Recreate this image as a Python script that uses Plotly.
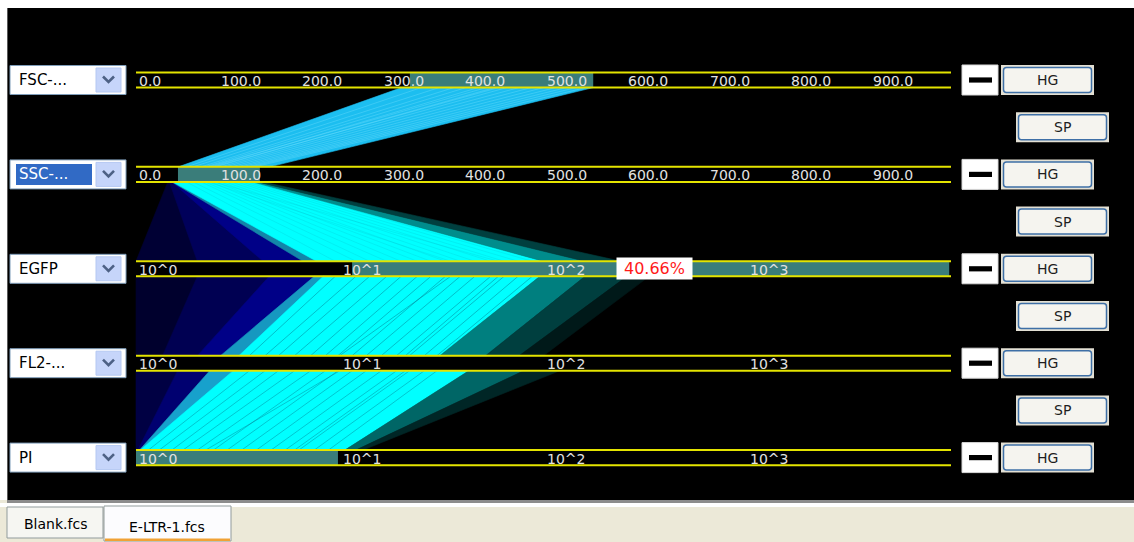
import numpy as np
import plotly.graph_objects as go

W, H = 1134, 542

# ---------------------------------------------------------------- data
AXIS_NAMES = ["FSC-...", "SSC-...", "EGFP", "FL2-...", "PI"]
AXIS_SCALES = ["lin", "lin", "log", "log", "log"]
LIN_MAX = 1000.0
LOG_DECADES = 4.0

LIN_TICKS = [0, 100, 200, 300, 400, 500, 600, 700, 800, 900]
LIN_TICK_LABELS = ["0.0", "100.0", "200.0", "300.0", "400.0",
                   "500.0", "600.0", "700.0", "800.0", "900.0"]
LOG_TICKS = [1, 10, 100, 1000]
LOG_TICK_LABELS = ["10^0", "10^1", "10^2", "10^3"]

# gates (selected ranges) per axis
GATE_AXIS = [0, 1, 2, 4]
GATE_LO = [336.0, 51.5, 11.5, 1.0]
GATE_HI = [561.0, 152.0, 9800.0, 9.8]
GATE_PERCENT_AXIS = 2
GATE_PERCENT = 40.66

# event bundles between consecutive axes (values on upper and lower axis)
BUNDLE_FROM = [0,
               1, 1, 1, 1, 1, 1, 1,
               2, 2, 2, 2, 2, 2, 2, 2,
               3, 3, 3, 3, 3, 3]
BUNDLE_UP_LO = [326.0,
                39.0, 41.0, 44.0, 44.0, 45.0, 143.0, 149.0,
                1.0, 2.0, 4.5, 7.5, 8.3, 96.0, 160.0, 257.0,
                1.0, 1.6, 2.3, 3.0, 43.0, 80.0]
BUNDLE_UP_HI = [561.0,
                44.0, 46.0, 50.0, 52.0, 144.0, 150.0, 156.0,
                2.0, 4.5, 8.3, 9.0, 96.0, 160.0, 257.0, 330.0,
                1.6, 2.3, 3.0, 43.0, 80.0, 120.0]
BUNDLE_DN_LO = [52.0,
                1.0, 2.0, 4.2, 6.6, 7.7, 100.0, 160.0,
                1.0, 1.35, 2.0, 2.6, 3.2, 31.0, 52.0, 76.0,
                1.0, 1.02, 1.04, 1.05, 10.6, 12.0]
BUNDLE_DN_HI = [164.0,
                2.0, 4.2, 7.7, 8.2, 100.0, 160.0, 240.0,
                1.35, 2.0, 2.8, 3.3, 31.0, 52.0, 76.0, 100.0,
                1.02, 1.04, 1.3, 10.6, 12.0, 13.0]
BUNDLE_GROUP = ["mixed",
                "other", "other", "other", "mixed", "gated", "gated", "gated",
                "other", "other", "other", "mixed", "gated", "gated", "gated", "gated",
                "other", "other", "mixed", "gated", "gated", "gated"]
BUNDLE_DENSITY = [1.0,
                  0.35, 0.6, 0.9, 0.7, 1.0, 0.55, 0.25,
                  0.3, 0.55, 0.9, 0.8, 1.0, 0.5, 0.25, 0.1,
                  0.45, 0.75, 0.85, 1.0, 0.4, 0.15]

# individual gated events (FSC, SSC, EGFP, FL2, PI)
EVENT_FSC = [350, 372, 390, 405, 420, 440, 455, 470, 485, 500, 515, 528, 540, 552, 445, 430]
EVENT_SSC = [62, 70, 80, 85, 92, 98, 104, 110, 117, 124, 130, 136, 141, 146, 95, 88]
EVENT_EGFP = [9.5, 12, 14, 17, 20, 24, 28, 33, 39, 46, 55, 64, 75, 88, 60, 35]
EVENT_FL2 = [3.6, 4.3, 5.0, 6.0, 7.2, 8.5, 9.8, 11.5, 13.5, 16, 19, 22, 26, 30, 21, 10]
EVENT_PI = [1.15, 1.3, 1.5, 1.7, 2.0, 2.4, 2.8, 3.3, 3.9, 4.6, 5.4, 6.3, 7.5, 8.8, 6.0, 2.2]

# ---------------------------------------------------------------- layout constants
ROW_TOP_PX = 80.0
ROW_STEP_PX = 94.4
AXIS_LEFT_PX = 136.0
AXIS_LEN_PX = 815.0
HALF = 0.08  # half height of an axis band, in row units

GROUP_RGB = {"gated": (0, 255, 255), "other": (0, 0, 150), "mixed": (28, 190, 240)}
STREAK_COLOR = ["rgba(120,225,255,0.35)", "rgba(0,170,190,0.18)",
                "rgba(0,130,150,0.5)", "rgba(0,130,150,0.45)"]
TEAL = "#3A7D7A"
YELLOW = "#E4E400"
TICK_COLOR = "#E2E2E2"
FONT = "DejaVu Sans"


def to_u(axis, v):
    if AXIS_SCALES[axis] == "lin":
        return v / LIN_MAX
    return np.log10(v) / LOG_DECADES


def shade(group, dens):
    r, g, b = GROUP_RGB[group]
    return f"rgb({int(r * dens)},{int(g * dens)},{int(b * dens)})"


def px(x):
    return x / W


def py(y):
    return 1 - y / H


def row_px(i):
    return ROW_TOP_PX + ROW_STEP_PX * i


fig = go.Figure()

# ---------------------------------------------------------------- event bundles
for k in range(len(BUNDLE_FROM)):
    a = BUNDLE_FROM[k]
    b = a + 1
    xs = [to_u(a, BUNDLE_UP_LO[k]), to_u(a, BUNDLE_UP_HI[k]),
          to_u(b, BUNDLE_DN_HI[k]), to_u(b, BUNDLE_DN_LO[k])]
    ys = [a + HALF, a + HALF, b - HALF, b - HALF]
    col = shade(BUNDLE_GROUP[k], BUNDLE_DENSITY[k])
    fig.add_trace(go.Scatter(
        x=xs + [xs[0]], y=ys + [ys[0]], mode="lines", fill="toself",
        fillcolor=col, line=dict(width=0.6, color=col),
        hoverinfo="skip", showlegend=False))

# single events, one segment at a time so they stop at the axis bands
events = [EVENT_FSC, EVENT_SSC, EVENT_EGFP, EVENT_FL2, EVENT_PI]
for a in range(len(AXIS_NAMES) - 1):
    b = a + 1
    xs, ys = [], []
    for va, vb in zip(events[a], events[b]):
        xs += [to_u(a, va), to_u(b, vb), None]
        ys += [a + HALF, b - HALF, None]
    fig.add_trace(go.Scatter(x=xs, y=ys, mode="lines",
                             line=dict(width=1, color=STREAK_COLOR[a]),
                             hoverinfo="skip", showlegend=False))

shapes = []
annotations = []

# ---------------------------------------------------------------- panel background
shapes.append(dict(type="rect", xref="paper", yref="paper", layer="below",
                   x0=px(7), x1=px(W), y0=py(500), y1=py(8),
                   fillcolor="black", line=dict(width=0)))
shapes.append(dict(type="line", xref="paper", yref="paper", layer="below",
                   x0=px(7.5), x1=px(7.5), y0=py(500), y1=py(8),
                   line=dict(color="#5A5A5A", width=1)))

# ---------------------------------------------------------------- axes
for g, lo, hi in zip(GATE_AXIS, GATE_LO, GATE_HI):
    shapes.append(dict(type="rect", xref="x", yref="y", layer="above",
                       x0=to_u(g, lo), x1=to_u(g, hi), y0=g - HALF, y1=g + HALF,
                       fillcolor=TEAL, line=dict(width=0)))

for i in range(len(AXIS_NAMES)):
    for yy in (i - HALF, i + HALF):
        shapes.append(dict(type="line", xref="x", yref="y", layer="above",
                           x0=0, x1=1, y0=yy, y1=yy,
                           line=dict(color=YELLOW, width=2)))
    if AXIS_SCALES[i] == "lin":
        ticks, labels = LIN_TICKS, LIN_TICK_LABELS
    else:
        ticks, labels = LOG_TICKS, LOG_TICK_LABELS
    for t, lab in zip(ticks, labels):
        annotations.append(dict(x=to_u(i, t), y=i + 0.01, xref="x", yref="y",
                                text=lab, showarrow=False, xanchor="left",
                                yanchor="middle", xshift=1,
                                font=dict(family=FONT, size=14, color=TICK_COLOR)))

# gate percentage label
gi = GATE_AXIS.index(GATE_PERCENT_AXIS)
mid_u = (to_u(GATE_PERCENT_AXIS, GATE_LO[gi]) + to_u(GATE_PERCENT_AXIS, GATE_HI[gi])) / 2
annotations.append(dict(x=mid_u, y=GATE_PERCENT_AXIS, xref="x", yref="y",
                        text=f"{GATE_PERCENT:.2f}%", showarrow=False,
                        xanchor="center", yanchor="middle", xshift=4,
                        bgcolor="white", width=75, height=21, borderpad=0,
                        font=dict(family=FONT, size=16, color="#FF1A1A")))


# ---------------------------------------------------------------- widgets
def rrect_path(x0, y0, x1, y1, r):
    return (f"M {px(x0 + r)},{py(y0)} L {px(x1 - r)},{py(y0)} "
            f"Q {px(x1)},{py(y0)} {px(x1)},{py(y0 + r)} L {px(x1)},{py(y1 - r)} "
            f"Q {px(x1)},{py(y1)} {px(x1 - r)},{py(y1)} L {px(x0 + r)},{py(y1)} "
            f"Q {px(x0)},{py(y1)} {px(x0)},{py(y1 - r)} L {px(x0)},{py(y0 + r)} "
            f"Q {px(x0)},{py(y0)} {px(x0 + r)},{py(y0)} Z")


def button(x0, x1, cy, label):
    shapes.append(dict(type="rect", xref="paper", yref="paper", layer="above",
                       x0=px(x0), x1=px(x1), y0=py(cy + 15), y1=py(cy - 15),
                       fillcolor="#E3E0D4", line=dict(width=0)))
    shapes.append(dict(type="path", xref="paper", yref="paper", layer="above",
                       path=rrect_path(x0 + 2.5, cy - 12.5, x1 - 2.5, cy + 12.5, 3),
                       fillcolor="#F5F4EF", line=dict(color="#3E6FA6", width=1.5)))
    annotations.append(dict(x=px((x0 + x1) / 2), y=py(cy), xref="paper", yref="paper",
                            text=label, showarrow=False, xanchor="center",
                            yanchor="middle",
                            font=dict(family=FONT, size=14, color="#1E1E1E")))


for i, name in enumerate(AXIS_NAMES):
    cy = row_px(i)
    # dropdown box
    shapes.append(dict(type="rect", xref="paper", yref="paper", layer="above",
                       x0=px(10), x1=px(126), y0=py(cy + 14.5), y1=py(cy - 14.5),
                       fillcolor="white", line=dict(color="#7F9DB9", width=1)))
    shapes.append(dict(type="rect", xref="paper", yref="paper", layer="above",
                       x0=px(96), x1=px(121), y0=py(cy + 12), y1=py(cy - 12),
                       fillcolor="#C6D5FA", line=dict(color="#B4C8F2", width=1)))
    shapes.append(dict(type="path", xref="paper", yref="paper", layer="above",
                       path=(f"M {px(103)},{py(cy - 3.5)} L {px(108.5)},{py(cy + 2)} "
                             f"L {px(114)},{py(cy - 3.5)}"),
                       line=dict(color="#4D6185", width=2.6)))
    selected = (i == 1)
    if selected:
        shapes.append(dict(type="rect", xref="paper", yref="paper", layer="above",
                           x0=px(16), x1=px(92), y0=py(cy + 10.5), y1=py(cy - 10.5),
                           fillcolor="#316AC5", line=dict(width=0)))
    annotations.append(dict(x=px(17), y=py(cy), xref="paper", yref="paper",
                            text=name, showarrow=False, xanchor="left",
                            yanchor="middle",
                            font=dict(family=FONT, size=15,
                                      color="white" if selected else "black")))
    # minimise box
    shapes.append(dict(type="rect", xref="paper", yref="paper", layer="above",
                       x0=px(962), x1=px(998), y0=py(cy + 15), y1=py(cy - 15),
                       fillcolor="white", line=dict(color="#D8D8D8", width=1)))
    shapes.append(dict(type="rect", xref="paper", yref="paper", layer="above",
                       x0=px(969), x1=px(992), y0=py(cy + 2.6), y1=py(cy - 2.6),
                       fillcolor="black", line=dict(width=0)))
    button(1001, 1094, cy, "HG")
    if i < len(AXIS_NAMES) - 1:
        button(1016, 1109, (row_px(i) + row_px(i + 1)) / 2, "SP")

# ---------------------------------------------------------------- tab strip
shapes.append(dict(type="rect", xref="paper", yref="paper", layer="above",
                   x0=0, x1=1, y0=0, y1=py(500),
                   fillcolor="#ECE9D8", line=dict(width=0)))
shapes.append(dict(type="rect", xref="paper", yref="paper", layer="above",
                   x0=px(7), x1=1, y0=py(503), y1=py(500),
                   fillcolor="#8C8C8C", line=dict(width=0)))
shapes.append(dict(type="rect", xref="paper", yref="paper", layer="above",
                   x0=0, x1=1, y0=py(507), y1=py(503),
                   fillcolor="white", line=dict(width=0)))
shapes.append(dict(type="rect", xref="paper", yref="paper", layer="above",
                   x0=px(7), x1=px(103), y0=py(538), y1=py(507),
                   fillcolor="#F6F6F2", line=dict(color="#919B9C", width=1)))
shapes.append(dict(type="rect", xref="paper", yref="paper", layer="above",
                   x0=px(104), x1=px(231), y0=py(541), y1=py(506),
                   fillcolor="#FCFCFE", line=dict(color="#919B9C", width=1)))
shapes.append(dict(type="rect", xref="paper", yref="paper", layer="above",
                   x0=px(105), x1=px(230), y0=py(541), y1=py(538.5),
                   fillcolor="#F0A236", line=dict(width=0)))
annotations.append(dict(x=px(55), y=py(524), xref="paper", yref="paper",
                        text="Blank.fcs", showarrow=False, xanchor="center",
                        yanchor="middle", font=dict(family=FONT, size=14, color="black")))
annotations.append(dict(x=px(167), y=py(527), xref="paper", yref="paper",
                        text="E-LTR-1.fcs", showarrow=False, xanchor="center",
                        yanchor="middle", font=dict(family=FONT, size=14, color="black")))

fig.update_layout(
    width=W, height=H,
    margin=dict(l=0, r=0, t=0, b=0),
    paper_bgcolor="white",
    plot_bgcolor="rgba(0,0,0,0)",
    showlegend=False,
    hovermode=False,
    xaxis=dict(range=[-AXIS_LEFT_PX / AXIS_LEN_PX, (W - AXIS_LEFT_PX) / AXIS_LEN_PX],
               visible=False, fixedrange=True),
    yaxis=dict(range=[(H - ROW_TOP_PX) / ROW_STEP_PX, -ROW_TOP_PX / ROW_STEP_PX],
               visible=False, fixedrange=True),
    shapes=shapes,
    annotations=annotations,
)

fig.write_html("out.html", config={"displayModeBar": False})
